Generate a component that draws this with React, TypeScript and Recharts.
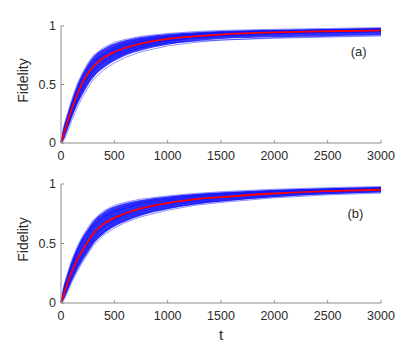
import { ComposedChart, Line, Area, XAxis, YAxis, ReferenceDot, Label } from "recharts";

// sample times (x values)
const T = [0, 25, 50, 100, 150, 200, 250, 300, 400, 500, 600, 750, 1000, 1250, 1500, 2000, 2500, 3000];
const X_TICKS = [0, 500, 1000, 1500, 2000, 2500, 3000];
const Y_TICKS = [0, 0.5, 1];

// panel (a): mean curve, spread of the ensemble, and some single runs
const RED_A = [0, 0.075, 0.15, 0.29, 0.41, 0.51, 0.59, 0.65, 0.73, 0.778, 0.812, 0.85, 0.89, 0.912, 0.927, 0.945, 0.955, 0.962];
const LO_A = [0, 0.03, 0.09, 0.21, 0.32, 0.41, 0.49, 0.555, 0.64, 0.7, 0.745, 0.79, 0.84, 0.87, 0.888, 0.903, 0.913, 0.923];
const HI_A = [0, 0.13, 0.21, 0.36, 0.49, 0.59, 0.67, 0.735, 0.805, 0.85, 0.878, 0.905, 0.932, 0.947, 0.957, 0.968, 0.975, 0.982];
const RUNS_A = [
  [0, 0.14, 0.22, 0.37, 0.5, 0.6, 0.68, 0.745, 0.815, 0.86, 0.885, 0.912, 0.936, 0.952, 0.962, 0.972, 0.979, 0.986],
  [0, 0.02, 0.07, 0.19, 0.3, 0.39, 0.47, 0.54, 0.625, 0.685, 0.73, 0.78, 0.83, 0.86, 0.88, 0.895, 0.905, 0.915],
  [0, 0.1, 0.17, 0.31, 0.44, 0.54, 0.61, 0.68, 0.75, 0.8, 0.835, 0.87, 0.905, 0.925, 0.94, 0.955, 0.965, 0.972],
  [0, 0.05, 0.12, 0.25, 0.36, 0.46, 0.55, 0.61, 0.7, 0.755, 0.79, 0.835, 0.875, 0.9, 0.915, 0.935, 0.945, 0.953],
  [0, 0.09, 0.16, 0.3, 0.42, 0.5, 0.58, 0.66, 0.74, 0.79, 0.82, 0.865, 0.9, 0.92, 0.93, 0.95, 0.96, 0.968],
  [0, 0.06, 0.13, 0.26, 0.38, 0.49, 0.57, 0.63, 0.71, 0.76, 0.8, 0.84, 0.88, 0.905, 0.92, 0.94, 0.95, 0.958],
  [0, 0.12, 0.2, 0.33, 0.45, 0.56, 0.64, 0.7, 0.77, 0.82, 0.86, 0.89, 0.92, 0.935, 0.945, 0.96, 0.968, 0.975],
  [0, 0.07, 0.14, 0.27, 0.39, 0.48, 0.56, 0.62, 0.69, 0.74, 0.775, 0.815, 0.855, 0.87, 0.88, 0.9, 0.912, 0.922],
  [0, 0.04, 0.1, 0.23, 0.35, 0.44, 0.52, 0.59, 0.67, 0.72, 0.77, 0.82, 0.87, 0.895, 0.91, 0.93, 0.942, 0.95],
  [0, 0.11, 0.19, 0.34, 0.46, 0.57, 0.63, 0.69, 0.76, 0.81, 0.845, 0.88, 0.915, 0.933, 0.948, 0.962, 0.97, 0.978],
];

// panel (b)
const RED_B = [0, 0.07, 0.14, 0.26, 0.36, 0.44, 0.51, 0.58, 0.665, 0.715, 0.752, 0.795, 0.84, 0.87, 0.89, 0.92, 0.94, 0.952];
const LO_B = [0, 0.03, 0.08, 0.18, 0.27, 0.35, 0.42, 0.49, 0.58, 0.64, 0.683, 0.733, 0.787, 0.826, 0.85, 0.888, 0.913, 0.928];
const HI_B = [0, 0.13, 0.21, 0.35, 0.46, 0.55, 0.62, 0.685, 0.765, 0.81, 0.838, 0.866, 0.895, 0.915, 0.93, 0.952, 0.965, 0.975];
const RUNS_B = [
  [0, 0.14, 0.22, 0.36, 0.47, 0.56, 0.63, 0.695, 0.775, 0.82, 0.846, 0.873, 0.9, 0.92, 0.935, 0.956, 0.969, 0.979],
  [0, 0.02, 0.07, 0.17, 0.26, 0.34, 0.41, 0.48, 0.57, 0.63, 0.675, 0.725, 0.78, 0.82, 0.845, 0.884, 0.909, 0.924],
  [0, 0.1, 0.18, 0.3, 0.41, 0.49, 0.56, 0.63, 0.7, 0.755, 0.79, 0.83, 0.865, 0.89, 0.91, 0.935, 0.952, 0.962],
  [0, 0.05, 0.11, 0.22, 0.32, 0.4, 0.47, 0.54, 0.63, 0.68, 0.72, 0.77, 0.815, 0.85, 0.87, 0.905, 0.93, 0.943],
  [0, 0.09, 0.16, 0.28, 0.39, 0.47, 0.54, 0.6, 0.68, 0.73, 0.77, 0.81, 0.855, 0.88, 0.9, 0.928, 0.946, 0.958],
  [0, 0.06, 0.12, 0.24, 0.34, 0.42, 0.49, 0.56, 0.64, 0.695, 0.74, 0.785, 0.83, 0.86, 0.882, 0.915, 0.935, 0.948],
  [0, 0.12, 0.2, 0.32, 0.43, 0.52, 0.6, 0.66, 0.73, 0.78, 0.815, 0.85, 0.885, 0.905, 0.922, 0.945, 0.96, 0.97],
  [0, 0.07, 0.13, 0.25, 0.35, 0.43, 0.5, 0.57, 0.65, 0.7, 0.745, 0.79, 0.835, 0.865, 0.886, 0.918, 0.938, 0.95],
  [0, 0.04, 0.09, 0.2, 0.3, 0.38, 0.45, 0.52, 0.6, 0.66, 0.7, 0.75, 0.8, 0.835, 0.86, 0.895, 0.92, 0.935],
  [0, 0.11, 0.19, 0.33, 0.44, 0.53, 0.59, 0.65, 0.72, 0.77, 0.8, 0.84, 0.875, 0.9, 0.915, 0.94, 0.956, 0.966],
];

const FONT = "Arial, 'Liberation Sans', Helvetica, sans-serif";
const AXIS = "#8c8c8c";
const TEXT = "#2b2b2b";

function buildRows(red: number[], lo: number[], hi: number[], runs: number[][]) {
  return T.map((t, i) => {
    const row: Record<string, number | number[]> = { t, red: red[i], band: [lo[i], hi[i]] };
    runs.forEach((r, k) => (row["r" + k] = r[i]));
    return row;
  });
}

const fidelityLabel = (props: any) => {
  const vb = props.viewBox;
  const x = vb.x + 7;
  const y = vb.y + vb.height / 2 - 4;
  return (
    <text x={x} y={y} transform={`rotate(-90, ${x}, ${y})`} textAnchor="middle" fontSize={14} fontFamily={FONT} fill={TEXT}>
      Fidelity
    </text>
  );
};

const tLabel = (props: any) => {
  const vb = props.viewBox;
  return (
    <text x={vb.x + vb.width / 2} y={vb.y + vb.height + 15} textAnchor="middle" fontSize={15} fontFamily={FONT} fill={TEXT}>
      t
    </text>
  );
};

type PanelProps = {
  height: number;
  margin: { top: number; right: number; bottom: number; left: number };
  red: number[];
  lo: number[];
  hi: number[];
  runs: number[][];
  tag: string;
  tagX: number;
  tagY: number;
  showT?: boolean;
};

function Panel({ height, margin, red, lo, hi, runs, tag, tagX, tagY, showT }: PanelProps) {
  const rows = buildRows(red, lo, hi, runs);
  const tick = { fill: TEXT, fontSize: 12.5, fontFamily: FONT };
  return (
    <ComposedChart width={420} height={height} data={rows} margin={margin}>
      <XAxis
        dataKey="t"
        type="number"
        domain={[0, 3000]}
        ticks={X_TICKS}
        height={22}
        stroke={AXIS}
        tickSize={-3}
        tickMargin={11}
        tick={tick}
        interval={0}
      >
        {showT && <Label content={tLabel} />}
      </XAxis>
      <XAxis xAxisId="top" orientation="top" type="number" domain={[0, 3000]} ticks={X_TICKS} height={0} stroke={AXIS} tickSize={-3} tick={false} />
      <YAxis type="number" domain={[0, 1]} ticks={Y_TICKS} width={40} stroke={AXIS} tickSize={-3} tickMargin={8} tick={tick} interval={0}>
        <Label content={fidelityLabel} />
      </YAxis>
      <YAxis yAxisId="right" orientation="right" type="number" domain={[0, 1]} ticks={Y_TICKS} width={0} stroke={AXIS} tickSize={-3} tick={false} />
      <Area dataKey="band" type="monotone" stroke="none" fill="#0a0aff" fillOpacity={0.82} isAnimationActive={false} />
      {runs.map((_, k) => (
        <Line key={k} dataKey={"r" + k} type="linear" stroke="#0000ff" strokeWidth={0.6} strokeOpacity={0.75} dot={false} isAnimationActive={false} />
      ))}
      <Line dataKey="red" type="monotone" stroke="#ff0000" strokeWidth={1.8} dot={false} isAnimationActive={false} />
      <ReferenceDot x={tagX} y={tagY} r={0} fill="none" stroke="none" label={{ value: tag, position: "center", fontSize: 13, fontFamily: FONT, fill: TEXT }} />
    </ComposedChart>
  );
}

export default function App() {
  return (
    <div style={{ position: "absolute", left: 0, top: 0, width: 420, height: 351, background: "#fff" }}>
      <Panel
        height={170}
        margin={{ top: 26, right: 39, bottom: 5, left: 21 }}
        red={RED_A}
        lo={LO_A}
        hi={HI_A}
        runs={RUNS_A}
        tag="(a)"
        tagX={2790}
        tagY={0.78}
      />
      <Panel
        height={181}
        margin={{ top: 14, right: 39, bottom: 26, left: 21 }}
        red={RED_B}
        lo={LO_B}
        hi={HI_B}
        runs={RUNS_B}
        tag="(b)"
        tagX={2760}
        tagY={0.755}
        showT
      />
    </div>
  );
}
